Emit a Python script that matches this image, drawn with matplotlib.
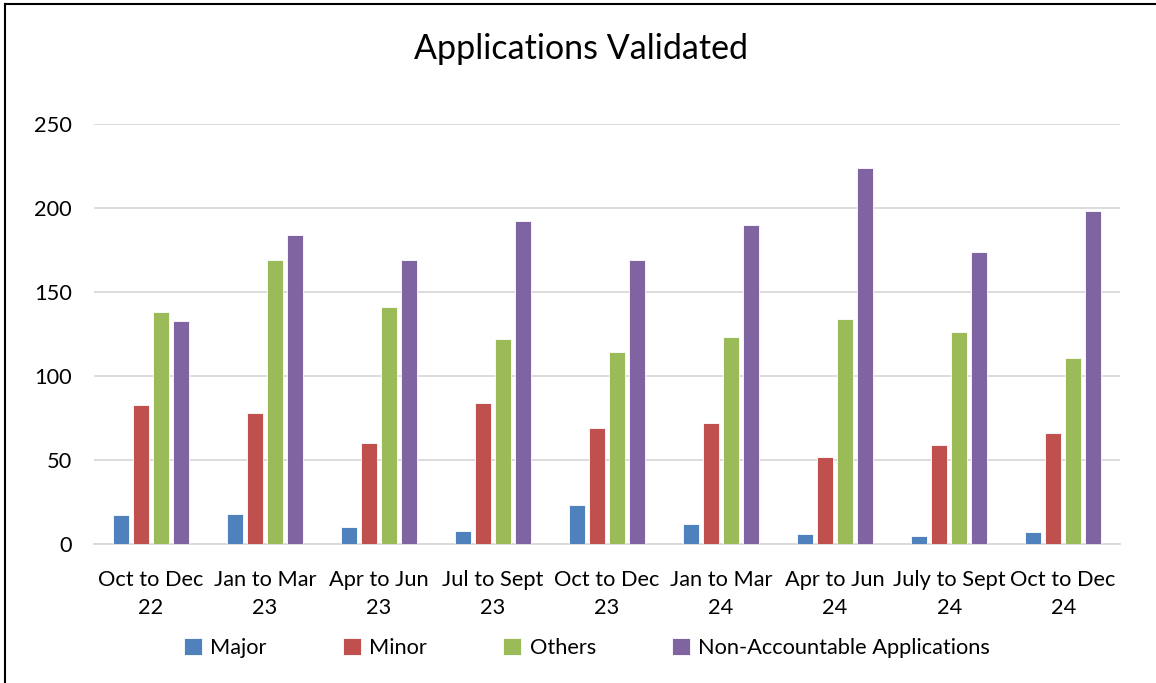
import matplotlib.pyplot as plt
import numpy as np
from matplotlib.lines import Line2D

categories = ["Oct to Dec\n22", "Jan to Mar\n23", "Apr to Jun\n23", "Jul to Sept\n23",
              "Oct to Dec\n23", "Jan to Mar\n24", "Apr to Jun\n24", "July to Sept\n24",
              "Oct to Dec\n24"]
major = [17, 18, 10, 8, 23, 12, 6, 5, 7]
minor = [83, 78, 60, 84, 69, 72, 52, 59, 66]
others = [138, 169, 141, 122, 114, 123, 134, 126, 111]
non_acc = [133, 184, 169, 192, 169, 190, 224, 174, 198]

series = [("Major", major, "#4F81BD"),
          ("Minor", minor, "#C0504D"),
          ("Others", others, "#9BBB59"),
          ("Non-Accountable Applications", non_acc, "#8064A2")]

plt.rcParams['font.family'] = ['Lato', 'DejaVu Sans']

fig = plt.figure(figsize=(11.56, 6.83), dpi=100)
ax = fig.add_axes([0.0813, 0.2035, 0.8877, 0.615])

x = np.arange(len(categories))
width = 0.14
step = 0.175
for i, (name, vals, color) in enumerate(series):
    ax.bar(x + (i - 1.5) * step, vals, width, color=color, label=name,
           edgecolor="white", linewidth=0.6, zorder=3)

ax.set_xlim(-0.5, len(categories) - 0.5)
ax.set_ylim(0, 250)
ax.set_yticks([0, 50, 100, 150, 200, 250])
ax.set_xticks(x)
ax.set_xticklabels(categories, fontsize=15.7, linespacing=1.5)
ax.tick_params(axis="both", length=0, labelsize=15.7)
ax.tick_params(axis="x", pad=19)
ax.tick_params(axis="y", pad=16)
ax.grid(axis="y", color="#d9d9d9", linewidth=1.3, zorder=0)
for side in ["top", "right", "left"]:
    ax.spines[side].set_visible(False)
ax.spines["bottom"].set_color("#d9d9d9")
ax.spines["bottom"].set_linewidth(1.3)

fig.text(0.503, 0.928, "Applications Validated", ha="center", va="center", fontsize=24.5)

fig.legend(loc="center", bbox_to_anchor=(0.508, 0.051), ncol=4, frameon=False,
           fontsize=15.7, handlelength=0.8, handleheight=0.8, handletextpad=0.4,
           columnspacing=3.5)

# chart border (left and top edges visible)
fig.add_artist(Line2D([5 / 1156, 5 / 1156], [0, 1 - 4 / 683], color="black", linewidth=1.5,
                      transform=fig.transFigure))
fig.add_artist(Line2D([5 / 1156, 1], [1 - 4 / 683, 1 - 4 / 683], color="black", linewidth=1.5,
                      transform=fig.transFigure))

fig.savefig("out.png", dpi=100)
